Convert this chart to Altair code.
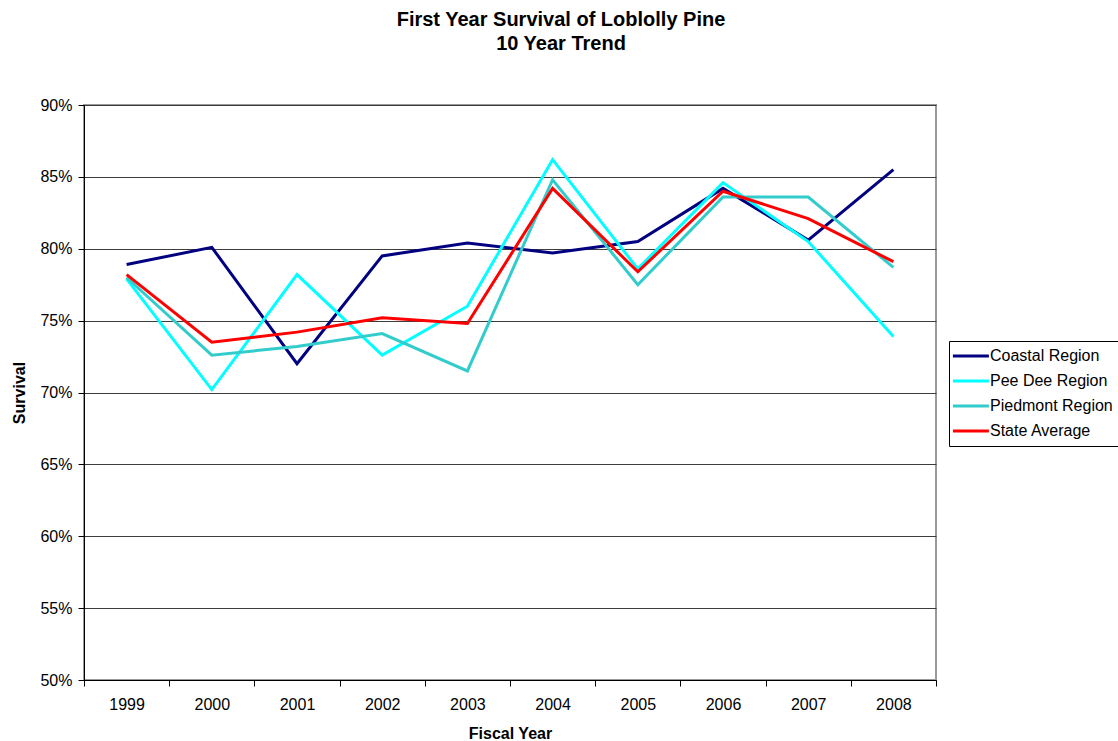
import altair as alt
import pandas as pd

# Fiscal years and first-year survival (%) for each region
years = ["1999", "2000", "2001", "2002", "2003", "2004", "2005", "2006", "2007", "2008"]
coastal = [78.9, 80.1, 72.0, 79.5, 80.4, 79.7, 80.5, 84.2, 80.6, 85.5]
pee_dee = [77.9, 70.2, 78.2, 72.6, 76.0, 86.2, 78.6, 84.6, 80.5, 73.9]
piedmont = [78.0, 72.6, 73.2, 74.1, 71.5, 84.8, 77.5, 83.6, 83.6, 78.7]
state_avg = [78.2, 73.5, 74.2, 75.2, 74.8, 84.2, 78.4, 84.0, 82.1, 79.1]

series_names = ["Coastal Region", "Pee Dee Region", "Piedmont Region", "State Average"]
series_colors = ["#000080", "#00FFFF", "#33CCCC", "#FF0000"]
y_ticks = [50, 55, 60, 65, 70, 75, 80, 85, 90]

rows = []
for name, vals in zip(series_names, [coastal, pee_dee, piedmont, state_avg]):
    for yr, v in zip(years, vals):
        rows.append({"Fiscal Year": yr, "Survival": v, "Series": name})
df = pd.DataFrame(rows)

FONT = "Liberation Sans"

chart = (
    alt.Chart(df)
    .mark_line(strokeWidth=3, strokeJoin="miter")
    .encode(
        x=alt.X(
            "Fiscal Year:O",
            sort=years,
            scale=alt.Scale(type="band", paddingInner=0, paddingOuter=0),
            bandPosition=0.5,
            axis=alt.Axis(
                labelAngle=0,
                tickBand="extent",
                tickSize=6,
                labelPadding=10,
                titlePadding=13,
                grid=False,
            ),
        ),
        y=alt.Y(
            "Survival:Q",
            scale=alt.Scale(domain=[50, 90], nice=False, zero=False),
            axis=alt.Axis(
                values=y_ticks,
                labelExpr="datum.value + '%'",
                tickSize=6,
                labelPadding=6,
                titlePadding=12,
                grid=True,
                gridColor="#3c3c3c",
                gridWidth=1,
            ),
        ),
        color=alt.Color(
            "Series:N",
            sort=series_names,
            scale=alt.Scale(domain=series_names, range=series_colors),
            legend=alt.Legend(
                title=None,
                orient="none",
                legendX=865,
                legendY=236,
                symbolType="M-3.7,0H8.3",
                symbolSize=36,
                symbolStrokeWidth=3,
                labelOffset=18,
                labelFontSize=16,
                labelFont=FONT,
                labelColor="black",
                rowPadding=9,
                padding=7,
                strokeColor="black",
                fillColor="white",
            ),
        ),
    )
    .properties(
        width=852,
        height=575,
        title=alt.TitleParams(
            text=["First Year Survival of Loblolly Pine", "10 Year Trend"],
            fontSize=20,
            font=FONT,
            fontWeight="bold",
            anchor="middle",
            lineHeight=24,
            offset=43,
            dx=51,
            color="black",
        ),
        autosize=alt.AutoSizeParams(type="none"),
        padding={"left": 84, "top": 105, "right": 182, "bottom": 61},
    )
    .configure(font=FONT, background="white")
    .configure_view(stroke="#9a9a9a", strokeWidth=2)
    .configure_axis(
        domainColor="black",
        domainWidth=1,
        tickColor="black",
        labelColor="black",
        labelFontSize=16,
        labelFont=FONT,
        titleFont=FONT,
        titleFontSize=16,
        titleFontWeight="bold",
        titleColor="black",
    )
)

chart.save("out.html", embed_options={"renderer": "svg", "actions": False})
